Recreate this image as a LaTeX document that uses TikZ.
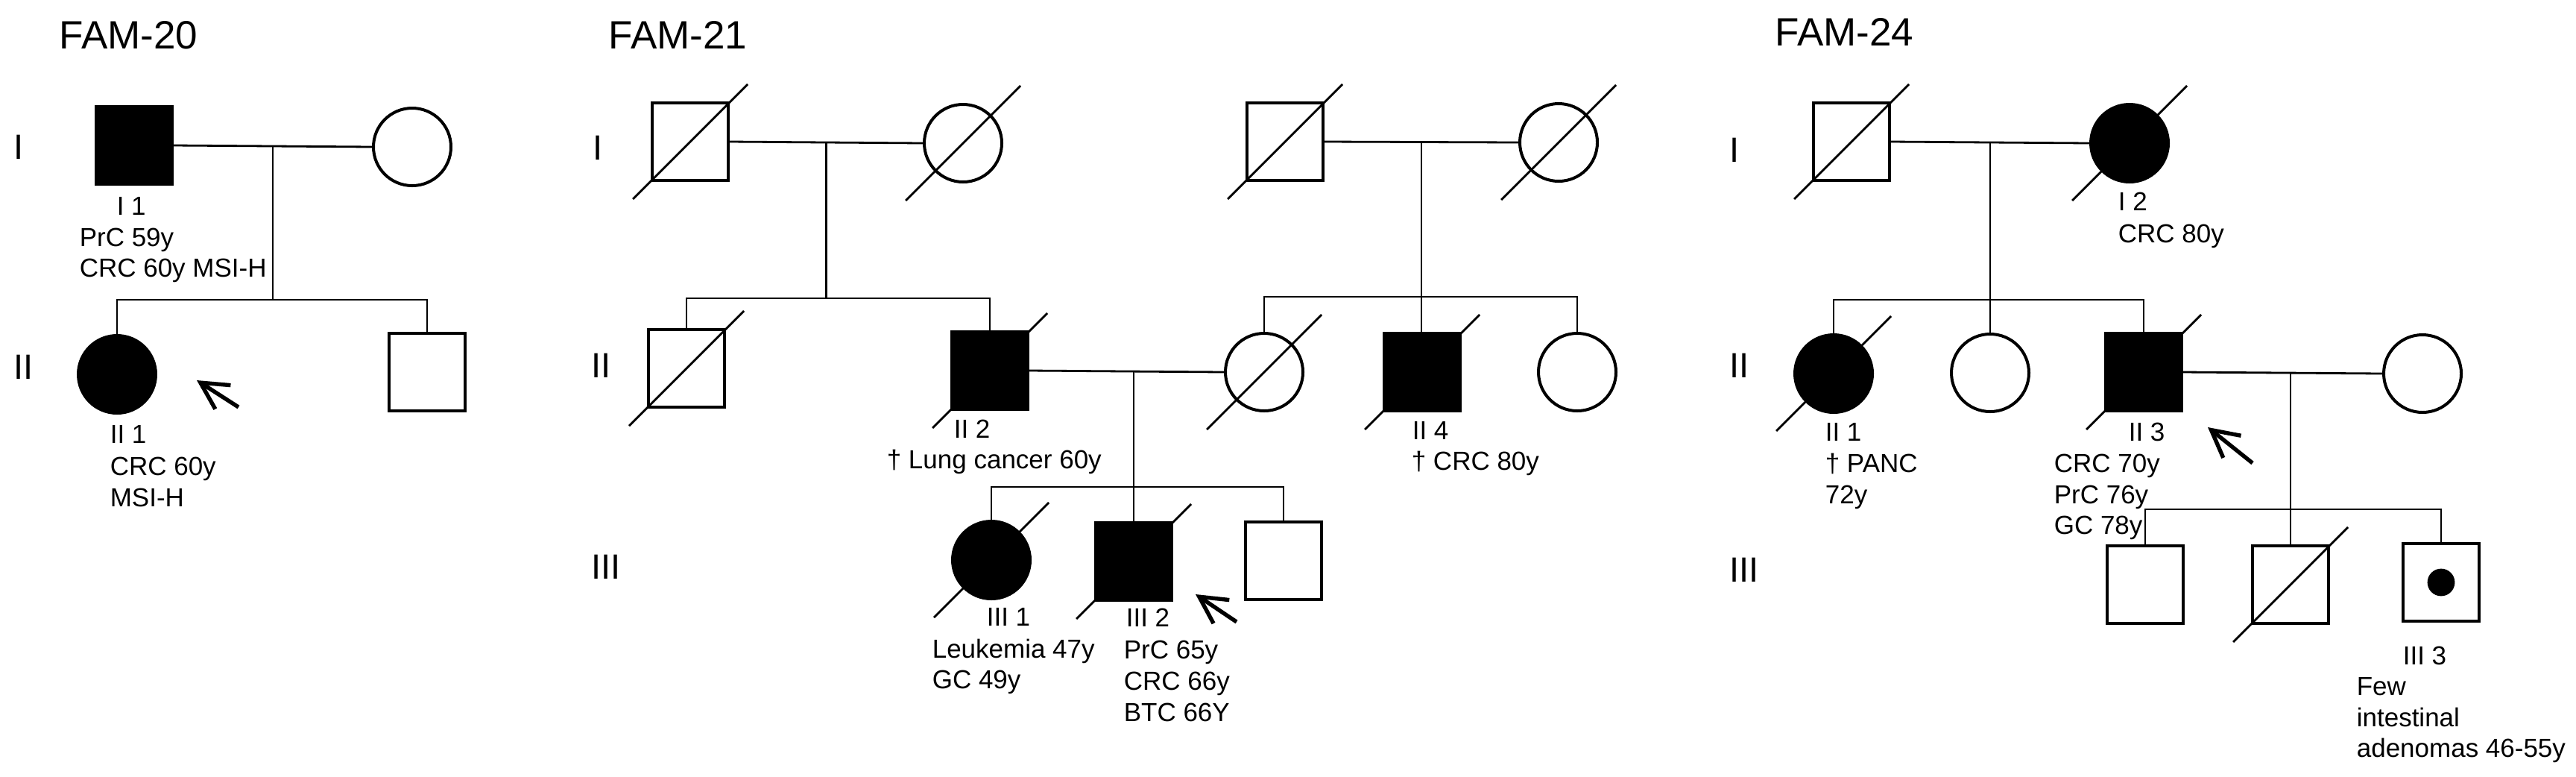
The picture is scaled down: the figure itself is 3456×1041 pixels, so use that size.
\documentclass[tikz,border=0pt]{standalone}
\usepackage{fontspec}
\setmainfont{Liberation Sans}
\usetikzlibrary{arrows.meta,calc}
\tikzset{
  male/.style={draw, line width=1pt, rectangle, minimum width=25.5pt, minimum height=26pt, inner sep=0pt},
  female/.style={draw, line width=1pt, circle, minimum size=26pt, inner sep=0pt},
  aff/.style={fill=black},
  conn/.style={line width=0.7pt},
  dec/.style={line width=0.7pt},
  lab/.style={inner sep=0pt, anchor=base west, font=\fontsize{8.75}{10}\selectfont},
  ttl/.style={inner sep=0pt, anchor=base west, font=\fontsize{13.25}{15}\selectfont},
  gen/.style={inner sep=0pt, anchor=base west, font=\fontsize{11.75}{14}\selectfont},
  proband/.style={line width=1.35pt, -{Straight Barb[length=9pt,width=9.5pt]}},
  dot/.style={circle, fill=black, minimum size=9.2pt, inner sep=0pt},
}
\newcommand\decline[1]{\draw[dec] ($(#1.center)+(-77,77)$) -- ($(#1.center)+(77,-77)$);}
\begin{document}
\begin{tikzpicture}[x=0.25pt,y=-0.25pt]
\useasboundingbox (0,0) rectangle (3456,1041);

% titles
\node[ttl] (t20) at (79,65) {FAM-20};
\node[ttl] (t21) at (816,65) {FAM-21};
\node[ttl] (t24) at (2381,61) {FAM-24};

% generation labels
\node[gen] (g20a) at (18,213) {I};
\node[gen] (g20b) at (18,508) {II};
\node[gen] (g21a) at (795,214) {I};
\node[gen] (g21b) at (793,506) {II};
\node[gen] (g21c) at (793,776) {III};
\node[gen] (g24a) at (2320,217) {I};
\node[gen] (g24b) at (2320,506) {II};
\node[gen] (g24c) at (2320,780) {III};

% ---------------- FAM-20 ----------------
\node[male,aff] (p20a) at (180,195) {};
\node[female] (p20b) at (553,197) {};
\node[female,aff] (p20c) at (157,502) {};
\node[male] (p20d) at (573,499) {};
\coordinate (m20) at ($(p20a.east)!0.5!(p20b.west)$);
\coordinate (s20) at (367,402);
\draw[conn] (p20a.east) -- (p20b.west);
\draw[conn] (m20) -- (m20 |- s20);
\draw[conn] (p20c.north) -- (p20c.north |- s20) -- (p20d.north |- s20) -- (p20d.north);

\node[lab] (l20a) at (156,288) {I 1};
\node[lab] (l20b) at (106,330) {PrC 59y};
\node[lab] (l20c) at (106,371) {CRC 60y MSI-H};
\node[lab] (l20d) at (147,594) {II 1};
\node[lab] (l20e) at (147,637) {CRC 60y};
\node[lab] (l20f) at (147,679) {MSI-H};
\coordinate (a20s) at (320,546);
\coordinate (a20e) at (264,510);
\draw[proband] (a20s) -- (a20e);

% ---------------- FAM-21 ----------------
\node[male] (p21a) at (926,190) {};
\node[female] (p21b) at (1292,192) {};
\node[male] (p21c) at (1724,190) {};
\node[female] (p21d) at (2091,191) {};
\node[male] (p21e) at (921,494) {};
\node[male,aff] (p21f) at (1328,497) {};
\node[female] (p21g) at (1696,499) {};
\node[male,aff] (p21h) at (1908,499) {};
\node[female] (p21i) at (2116,499) {};
\node[female,aff] (p21j) at (1330,751) {};
\node[male,aff] (p21k) at (1521,753) {};
\node[male] (p21l) at (1722,752) {};

\draw[conn] (p21a.east) -- (p21b.west);
\coordinate (m21a) at ($(p21a.east)!0.5!(p21b.west)$);
\coordinate (s21a) at (1110,400);
\draw[conn] (m21a) -- (m21a |- s21a);
\draw[conn] (p21e.north) -- (p21e.north |- s21a) -- (p21f.north |- s21a) -- (p21f.north);

\draw[conn] (p21c.east) -- (p21d.west);
\coordinate (m21b) at ($(p21c.east)!0.5!(p21d.west)$);
\coordinate (s21b) at (1907,398);
\draw[conn] (m21b) -- (m21b |- p21h.north);
\draw[conn] (p21g.north) -- (p21g.north |- s21b) -- (p21i.north |- s21b) -- (p21i.north);

\draw[conn] (p21f.east) -- (p21g.west);
\coordinate (m21c) at (p21k.center |- p21g.west);
\coordinate (s21c) at (1521,653);
\draw[conn] (m21c) -- (p21k.north);
\draw[conn] (p21j.north) -- (p21j.north |- s21c) -- (p21l.north |- s21c) -- (p21l.north);

\decline{p21a}\decline{p21b}\decline{p21c}\decline{p21d}\decline{p21e}
\decline{p21f}\decline{p21g}\decline{p21h}\decline{p21j}\decline{p21k}

\node[lab] (l21a) at (1279,587) {II 2};
\node[lab] (l21b) at (1189,628) {† Lung cancer 60y};
\node[lab] (l21c) at (1894,589) {II 4};
\node[lab] (l21d) at (1893,630) {† CRC 80y};
\node[lab] (l21e) at (1323,839) {III 1};
\node[lab] (l21f) at (1250,882) {Leukemia 47y};
\node[lab] (l21g) at (1250,923) {GC 49y};
\node[lab] (l21h) at (1510,840) {III 2};
\node[lab] (l21i) at (1507,883) {PrC 65y};
\node[lab] (l21j) at (1507,925) {CRC 66y};
\node[lab] (l21k) at (1507,967) {BTC 66Y};
\coordinate (a21s) at (1659,834);
\coordinate (a21e) at (1604,797);
\draw[proband] (a21s) -- (a21e);

% ---------------- FAM-24 ----------------
\node[male] (p24a) at (2484,190) {};
\node[female,aff] (p24b) at (2857,192) {};
\node[female,aff] (p24c) at (2460,501) {};
\node[female] (p24d) at (2670,500) {};
\node[male,aff] (p24e) at (2876,499) {};
\node[female] (p24f) at (3250,501) {};
\node[male] (p24g) at (2878,784) {};
\node[male] (p24h) at (3073,784) {};
\node[male] (p24i) at (3275,781) {};
\node[dot] (p24dot) at (p24i.center) {};

\draw[conn] (p24a.east) -- (p24b.west);
\coordinate (m24a) at ($(p24a.east)!0.5!(p24b.west)$);
\coordinate (s24a) at (2669,402);
\draw[conn] (m24a) -- (m24a |- p24d.north);
\draw[conn] (p24c.north) -- (p24c.north |- s24a) -- (p24e.north |- s24a) -- (p24e.north);

\draw[conn] (p24e.east) -- (p24f.west);
\coordinate (m24b) at (p24h.center |- p24e.east);
\coordinate (s24b) at (3073,683);
\draw[conn] (m24b) -- (p24h.north);
\draw[conn] (p24g.north) -- (p24g.north |- s24b) -- (p24i.north |- s24b) -- (p24i.north);

\decline{p24a}\decline{p24b}\decline{p24c}\decline{p24e}\decline{p24h}

\node[lab] (l24a) at (2841,282) {I 2};
\node[lab] (l24b) at (2841,325) {CRC 80y};
\node[lab] (l24c) at (2448,591) {II 1};
\node[lab] (l24d) at (2448,633) {† PANC};
\node[lab] (l24e) at (2448,675) {72y};
\node[lab] (l24f) at (2855,591) {II 3};
\node[lab] (l24g) at (2755,633) {CRC 70y};
\node[lab] (l24h) at (2755,675) {PrC 76y};
\node[lab] (l24i) at (2755,716) {GC 78y};
\node[lab] (l24j) at (3223,891) {III 3};
\node[lab] (l24k) at (3161,932) {Few};
\node[lab] (l24l) at (3161,974) {intestinal};
\node[lab] (l24m) at (3161,1015) {adenomas 46-55y};
\coordinate (a24s) at (3022,621);
\coordinate (a24e) at (2962,573);
\draw[proband] (a24s) -- (a24e);
\end{tikzpicture}
\end{document}
